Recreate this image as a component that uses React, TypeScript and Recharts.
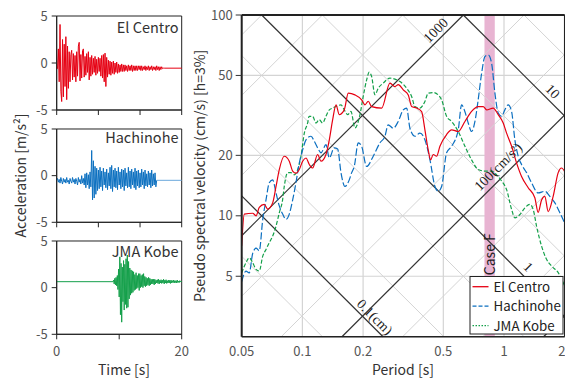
import React from 'react';
import { LineChart, Line, XAxis, YAxis, CartesianGrid, ReferenceLine, ReferenceArea, ReferenceDot } from 'recharts';

const SANS = '"Noto Sans CJK JP", "Noto Sans", sans-serif';
const SERIF = '"Liberation Serif", "DejaVu Serif", serif';

const RED = '#e60012';
const BLUE = '#0b6fc0';
const BLUE_LIGHT = '#6aa8dc';
const GREEN = '#14a04a';

// ---------- acceleration time histories (m/s^2) ----------
const elCentroDt = 0.2;
const elCentroAcc = [
  -0.55, -0.6, 1.5, -2.0, 4.1, -3.0, -4.1, 2.5, -3.6, 2.0,
  -2.5, 2.8, -3.9, 1.8, -2.7, 1.2, -2.0, 0.9, 1.35, -1.8,
  1.0, -1.5, 0.8, -2.0, 1.2, -1.4, 1.8, 2.2, -1.9, 0.9,
  -1.6, 1.3, 1.5, -1.5, 0.7, -1.3, 1.0, -1.0, 1.2, -1.8,
  0.6, -1.4, 0.8, -1.2, 0.5, -1.0, 0.7, -1.3, 0.4, -1.1,
  0.6, -0.9, 0.5, -1.4, 0.8, -1.6, 0.9, -2.0, 1.05, -2.5,
  0.6, -1.5, 0.3, -1.2, 0.2, -1.3, 0.1, -1.1, 0.2, -1.2,
  0.0, -1.0, 0.1, -1.1, -0.1, -1.0, -0.2, -0.9, -0.1, -0.9,
  -0.2, -0.9, -0.2, -0.8, -0.3, -0.9, -0.2, -0.8, -0.3, -0.8,
  -0.2, -0.9, -0.3, -0.8, -0.3, -0.8, -0.3, -0.8, -0.3, -0.7,
  -0.3, -0.8, -0.3, -0.8, -0.4, -0.7, -0.3, -0.8, -0.4, -0.7,
  -0.3, -0.8, -0.4, -0.7, -0.3, -0.8, -0.4, -0.7, -0.4, -0.8,
  -0.3, -0.7, -0.4, -0.8, -0.4, -0.7, -0.4, -0.6, -0.55, -0.55,
];
const elCentroEnd = { t: 30, a: -0.55 };

const hachinoheDt = 0.2;
const hachinoheAcc = [
  -0.5, -0.3, -0.7, -0.4, -0.8, -0.2, -0.6, -0.9, -0.3, -0.7,
  -0.4, -0.8, -0.2, -0.7, -0.5, -0.9, -0.3, -0.6, -0.8, -0.2,
  -0.7, -0.4, -0.9, -0.3, -0.6, -1.0, -0.2, -0.7, -0.4, -0.9,
  0.0, -0.8, -0.3, -1.0,
  0.2, -1.3, 0.3, -1.0, 0.1, -1.4, 0.4, -1.2,
  2.7, -2.6, 1.6, -2.4, 1.0, -2.0, 0.8, -1.6,
  0.6, -1.4, 0.9, -1.2, 0.5, -1.6, 0.8, -1.0, 0.4, -1.3,
  0.7, -1.5, 0.3, -1.1, 0.9, -1.4, 1.1, -1.7, 0.6, -1.2,
  0.8, -1.3, 0.5, -1.5, 0.9, -1.0, 0.4, -1.4, 0.7, -1.2,
  0.6, -1.6, 0.8, -1.1, 0.3, -1.3, 0.9, -1.2, 0.5, -1.4,
  0.7, -1.0, 0.4, -1.3, 0.8, -1.5, 0.5, -1.1, 0.6, -1.3,
  0.3, -1.2, 0.7, -1.0, 0.4, -1.4, 0.6, -1.1, 0.2, -1.2,
  0.5, -1.0, 0.3, -1.3, 0.6, -1.1, 0.2, -1.0, 0.3, -1.2,
  -0.5,
];
const hachinoheTail = [{ t: 24, a: -0.5 }, { t: 30, a: -0.5 }];

const kobeStart = { t: 0, a: 0.64 };
const kobeT0 = 9.0;
const kobeDt = 0.1;
const kobeAcc = [
  0.64, 0.8, 0.4, 1.0, 0.3, 1.1, 0.2, 1.3, -0.2, 2.0,
  -1.0, 3.3, -2.9, 2.6, -3.7, 2.2, -1.5, 2.9, -2.4, 2.5,
  -1.8, 3.1, -2.2, 3.5, -2.1, 2.8, -1.2, 2.1, -0.8, 1.9,
  -0.6, 1.8, -0.5, 1.7, -0.3, 1.4, -0.2, 1.6, -0.1, 1.3,
  0.0, 1.5, -0.3, 1.5, 0.0, 1.3, 0.1, 1.4, 0.0, 1.5,
  0.2, 1.2, 0.1, 1.1, 0.2, 1.0, 0.3, 1.1, 0.2, 1.0,
  0.3, 0.9, 0.4, 0.9, 0.4, 0.9, 0.3, 0.9, 0.4, 0.8,
  0.5,
  0.85, 0.45, 0.9, 0.4, 0.8, 0.5, 0.85, 0.45, 0.8, 0.5,
  0.9, 0.4, 0.8, 0.5, 0.85, 0.45, 0.75, 0.5, 0.8, 0.5,
  0.8, 0.45, 0.8, 0.5, 0.75, 0.55, 0.8, 0.5, 0.75, 0.55,
  0.75, 0.5, 0.8, 0.55, 0.7, 0.55, 0.75, 0.6, 0.7, 0.64,
];

// ---------- pseudo spectral velocity (cm/s) ----------
const elCentroT = [0.05,0.0515,0.0567,0.0589,0.0611,0.0647,0.0673,0.0712,0.074,0.0768,0.0813,0.0861,0.0895,0.0929,0.0965,0.1003,0.1042,0.1082,0.1124,0.119,0.1237,0.1309,0.136,0.1413,0.1468,0.1523,0.1613,0.1689,0.1822,0.1967,0.2043,0.2121,0.2205,0.2472,0.2718,0.2877,0.2988,0.3164,0.335,0.3482,0.3687,0.3903,0.4052,0.4208,0.4325,0.4457,0.4632,0.481,0.519,0.5497,0.593,0.64,0.6905,0.7445,0.7885,0.82,0.884,0.936,0.991,1.03,1.091,1.155,1.222,1.318,1.422,1.477,1.536,1.594,1.656,1.753,1.857,1.93,2.0];
const elCentroSv = [7.1,10.2,10.3,10.0,11.0,11.4,10.8,11.6,14.0,17.0,19.8,18.7,16.7,16.3,17.0,18.7,19.4,18.0,17.3,20.2,18.7,20.2,23.9,30.1,35.7,31.9,33.7,40.8,40.0,37.8,35.7,37.2,35.0,34.4,45.8,44.0,45.0,42.4,40.0,35.0,34.4,33.0,26.8,21.3,19.0,20.2,19.8,22.2,25.4,26.8,26.3,29.5,33.1,35.0,35.0,33.7,34.4,31.9,29.0,25.8,22.2,18.3,15.7,13.8,12.3,10.4,12.0,12.5,10.5,12.5,16.4,17.3,16.6];

const hachinoheT = [0.05,0.0525,0.0545,0.0567,0.0589,0.0611,0.0636,0.066,0.0685,0.0712,0.074,0.0768,0.0798,0.0829,0.0861,0.0895,0.0929,0.0965,0.1003,0.1042,0.1103,0.1146,0.119,0.1237,0.1309,0.136,0.1439,0.1496,0.1554,0.1626,0.1708,0.1756,0.1808,0.1893,0.1967,0.2083,0.2246,0.2425,0.2567,0.2666,0.2823,0.2988,0.3164,0.3289,0.3415,0.3616,0.3828,0.4052,0.4292,0.4544,0.4717,0.4904,0.519,0.5497,0.593,0.616,0.64,0.6645,0.6905,0.7175,0.7445,0.7745,0.804,0.835,0.868,0.9015,0.936,0.9725,1.01,1.049,1.091,1.132,1.176,1.222,1.294,1.37,1.477,1.594,1.688,1.788,1.893,2.0];
const hachinoheSv = [4.7,5.3,5.2,6.5,6.9,6.7,9.6,12.0,14.6,15.1,13.0,11.2,10.2,9.6,10.2,12.0,14.6,18.3,21.3,23.9,24.9,23.5,21.8,20.6,22.6,19.4,21.8,21.5,16.4,14.0,15.1,16.4,17.6,23.1,22.2,17.6,19.8,23.1,24.9,28.4,27.3,29.5,33.7,34.4,27.3,24.9,25.8,23.9,19.0,14.0,13.25,14.0,20.6,22.2,26.8,35.7,33.0,29.0,26.3,29.5,37.8,51.3,62.1,63.3,57.5,40.8,32.5,31.3,33.7,35.7,33.0,23.9,19.8,18.0,16.4,14.6,13.0,13.25,12.5,11.6,10.35,9.2];

const kobeSpecT = [0.05,0.0525,0.0545,0.0567,0.0589,0.0611,0.0636,0.066,0.0685,0.0712,0.074,0.0768,0.0798,0.0813,0.0845,0.0878,0.0911,0.0948,0.0984,0.1022,0.1062,0.108,0.1124,0.1168,0.1212,0.126,0.1309,0.136,0.1413,0.1468,0.1554,0.1613,0.1677,0.1741,0.1822,0.193,0.2003,0.2083,0.2146,0.2205,0.229,0.2379,0.2518,0.2718,0.2877,0.3047,0.3289,0.3482,0.3616,0.3828,0.4052,0.4208,0.4457,0.4717,0.4904,0.519,0.5497,0.593,0.64,0.6905,0.7445,0.804,0.868,0.919,0.9725,1.03,1.091,1.132,1.199,1.27,1.344,1.396,1.45,1.536,1.626,1.722,1.857,2.0];
const kobeSpecSv = [5.2,5.84,6.18,5.84,5.41,5.31,6.3,6.8,7.34,7.92,8.88,10.35,12.05,14.0,16.4,16.4,16.0,17.0,19.8,25.8,29.0,31.3,31.3,29.0,30.1,29.0,31.3,33.7,34.4,35.0,35.7,33.7,31.9,33.1,27.4,31.9,39.3,47.5,51.9,49.4,40.1,43.2,45.8,48.5,47.9,46.6,43.2,39.3,35.0,34.4,37.1,40.8,41.1,40.0,37.8,31.3,29.5,26.3,22.2,19.0,17.0,16.7,16.7,16.0,14.9,13.5,10.75,9.77,10.15,10.96,11.4,10.75,8.88,7.06,6.07,5.62,5.21,4.47];

// ---------- axes / tripartite grid values ----------
const periodTicks = [0.05, 0.1, 0.2, 0.5, 1, 2];
const periodMinor = [0.06, 0.07, 0.08, 0.09, 0.3, 0.4, 0.6, 0.7, 0.8, 0.9];
const svTicks = [5, 10, 20, 50, 100];
const svMinor = [3, 4, 6, 7, 8, 9, 30, 40, 60, 70, 80, 90];
const dispValues = [0.05, 0.1, 0.2, 0.5, 1, 2, 5, 10, 20];
const dispBold = [0.1, 1, 10];
const accValues = [10, 20, 50, 100, 200, 500, 1000, 2000, 5000, 10000];
const accBold = [10, 100, 1000];
const caseBand = [0.8, 0.9];

const T_MIN = 0.05, T_MAX = 2, SV_MIN = 2.5, SV_MAX = 100;

function dispSeg(D: number) {
  const k = 2 * Math.PI * D;
  const t1 = Math.max(T_MIN, k / SV_MAX);
  const t2 = Math.min(T_MAX, k / SV_MIN);
  if (t1 >= t2) return null;
  return [{ x: t1, y: k / t1 }, { x: t2, y: k / t2 }];
}
function accSeg(A: number) {
  const k = A / (2 * Math.PI);
  const t1 = Math.max(T_MIN, SV_MIN / k);
  const t2 = Math.min(T_MAX, SV_MAX / k);
  if (t1 >= t2) return null;
  return [{ x: t1, y: k * t1 }, { x: t2, y: k * t2 }];
}

const toSeries = (T: number[], S: number[]) => T.map((t, i) => ({ T: t, Sv: S[i] }));

const tickStyle = { fontSize: 13, fill: '#555', fontFamily: SANS };

type PanelProps = {
  lines: { data: { t: number; a: number }[]; color: string }[];
  top: number;
  marginTop: number;
  plotH: number;
  xh: number;
  domainMax: number;
  ticks: number[];
  labelTicks: boolean;
};

function AccPanel(p: PanelProps) {
  return (
    <div style={{ position: 'absolute', left: 0, top: p.top }}>
      <LineChart width={200} height={p.marginTop + p.plotH + p.xh} margin={{ top: p.marginTop, right: 18.3, bottom: 0, left: 0 }}>
        <XAxis
          type="number" dataKey="t" domain={[0, p.domainMax]} ticks={p.ticks} height={p.xh}
          tickSize={5} tickMargin={7}
          tickFormatter={(v: number) => (p.labelTicks && v !== 10 ? String(v) : '')}
          axisLine={{ stroke: '#222' }} tickLine={{ stroke: '#222' }} tick={tickStyle}
        />
        <YAxis
          type="number" domain={[-5, 5]} ticks={[-5, 0, 5]} width={56.7}
          tickSize={5} tickMargin={4}
          axisLine={{ stroke: '#222' }} tickLine={{ stroke: '#222' }} tick={tickStyle}
        />
        <ReferenceArea x1={0} x2={p.domainMax} y1={-5} y2={5} fill="none" fillOpacity={0} stroke="#222" strokeWidth={1} />
        {p.lines.map((l, i) => (
          <Line key={i} data={l.data} dataKey="a" type="linear" stroke={l.color} strokeWidth={1} dot={false} isAnimationActive={false} />
        ))}
      </LineChart>
    </div>
  );
}

function MainChart() {
  const grayD = dispValues.filter((d) => !dispBold.includes(d));
  const grayA = accValues.filter((a) => !accBold.includes(a));
  const lbl = (value: string, angle: number, family = SERIF) => ({
    value, angle, position: 'center' as const, fontSize: 14, fill: '#222', fontFamily: family,
  });
  return (
    <div style={{ position: 'absolute', left: 180, top: 5 }}>
      <LineChart width={385} height={372} margin={{ top: 10, right: 0.3, bottom: 0, left: 0 }}>
        <CartesianGrid stroke="#d4d4d4" strokeWidth={1.2} />
        <ReferenceArea x1={caseBand[0]} x2={caseBand[1]} fill="#e8b4d2" fillOpacity={1} stroke="none" ifOverflow="hidden" />
        {grayD.map((d) => {
          const s = dispSeg(d);
          return s ? <ReferenceLine key={'gd' + d} segment={s} stroke="#d4d4d4" strokeWidth={1} ifOverflow="visible" /> : null;
        })}
        {grayA.map((a) => {
          const s = accSeg(a);
          return s ? <ReferenceLine key={'ga' + a} segment={s} stroke="#d4d4d4" strokeWidth={1} ifOverflow="visible" /> : null;
        })}
        {dispBold.map((d) => {
          const s = dispSeg(d);
          return s ? <ReferenceLine key={'bd' + d} segment={s} stroke="#333" strokeWidth={1.2} ifOverflow="visible" /> : null;
        })}
        {accBold.map((a) => {
          const s = accSeg(a);
          return s ? <ReferenceLine key={'ba' + a} segment={s} stroke="#333" strokeWidth={1.2} ifOverflow="visible" /> : null;
        })}
        <XAxis
          type="number" dataKey="T" scale="log" domain={[T_MIN, T_MAX]} allowDataOverflow ticks={periodTicks}
          height={40.3} tickSize={6} tickMargin={4} tickLine={false}
          axisLine={{ stroke: '#222', strokeWidth: 1.5 }} tick={tickStyle}
          tickFormatter={(v: number) => String(v)}
        />
        <XAxis xAxisId="minorB" type="number" scale="log" domain={[T_MIN, T_MAX]} allowDataOverflow ticks={periodMinor}
          mirror orientation="bottom" tick={false} tickSize={5} axisLine={false} tickLine={{ stroke: '#333' }} />
        <XAxis xAxisId="minorT" type="number" scale="log" domain={[T_MIN, T_MAX]} allowDataOverflow ticks={periodMinor}
          mirror orientation="top" tick={false} tickSize={5} axisLine={{ stroke: '#222', strokeWidth: 2 }} tickLine={{ stroke: '#333' }} />
        <YAxis
          type="number" scale="log" domain={[SV_MIN, SV_MAX]} allowDataOverflow ticks={svTicks} width={61.7}
          tickSize={6} tickMargin={3} tickLine={{ stroke: '#333' }}
          axisLine={{ stroke: '#222', strokeWidth: 2 }} tick={tickStyle}
          label={{ value: 'Pseudo spectral velocity (cm/s) [h=3%]', angle: -90, position: 'insideLeft', offset: 20, style: { textAnchor: 'middle' }, fontSize: 14, fill: '#333', fontFamily: SANS }}
        />
        <YAxis yAxisId="minorL" type="number" scale="log" domain={[SV_MIN, SV_MAX]} allowDataOverflow ticks={svMinor}
          mirror orientation="left" tick={false} tickSize={5} axisLine={false} tickLine={{ stroke: '#333' }} />
        <YAxis yAxisId="minorR" type="number" scale="log" domain={[SV_MIN, SV_MAX]} allowDataOverflow ticks={svMinor}
          mirror orientation="right" tick={false} tickSize={5} axisLine={{ stroke: '#222', strokeWidth: 1.5 }} tickLine={{ stroke: '#333' }} />
        <Line data={toSeries(kobeSpecT, kobeSpecSv)} dataKey="Sv" type="monotone" stroke={GREEN} strokeWidth={1.2} strokeDasharray="4 2" dot={false} isAnimationActive={false} />
        <Line data={toSeries(hachinoheT, hachinoheSv)} dataKey="Sv" type="monotone" stroke={BLUE} strokeWidth={1.2} strokeDasharray="7 2.5" dot={false} isAnimationActive={false} />
        <Line data={toSeries(elCentroT, elCentroSv)} dataKey="Sv" type="monotone" stroke={RED} strokeWidth={1.2} dot={false} isAnimationActive={false} />
        <ReferenceDot x={0.457} y={84.2} r={0} fill="none" stroke="none" label={lbl('1000', -45)} />
        <ReferenceDot x={1.747} y={41.7} r={0} fill="none" stroke="none" label={lbl('10', 45)} />
        <ReferenceDot x={0.933} y={17.6} r={0} fill="none" stroke="none" label={lbl('100(cm/s²)', -45)} />
        <ReferenceDot x={1.324} y={5.57} r={0} fill="none" stroke="none" label={lbl('1', 45)} />
        <ReferenceDot x={0.229} y={3.14} r={0} fill="none" stroke="none" label={lbl('0.1(cm)', 45)} />
        <ReferenceDot x={0.85} y={6.44} r={0} fill="none" stroke="none" label={lbl('Case F', -90, SANS)} />
      </LineChart>
    </div>
  );
}

const legendItems = [
  { name: 'El Centro', color: RED, dash: undefined as string | undefined },
  { name: 'Hachinohe', color: BLUE, dash: '4 2' },
  { name: 'JMA Kobe', color: GREEN, dash: '1.5 1.5' },
];

export default function App() {
  const elData = [...elCentroAcc.map((a, i) => ({ t: i * elCentroDt, a })), elCentroEnd];
  const haData = hachinoheAcc.map((a, i) => ({ t: i * hachinoheDt, a }));
  const kbData = [kobeStart, ...kobeAcc.map((a, i) => ({ t: kobeT0 + i * kobeDt, a }))];
  return (
    <div style={{ position: 'absolute', left: 0, top: 0, width: 565, height: 378, overflow: 'hidden', background: '#fff', fontFamily: SANS }}>
      <AccPanel lines={[{ data: elData, color: RED }]} top={5.7} marginTop={10} plotH={94} xh={10} domainMax={30} ticks={[0, 10, 20, 30]} labelTicks={false} />
      <AccPanel lines={[{ data: haData, color: BLUE }, { data: hachinoheTail, color: BLUE_LIGHT }]} top={119} marginTop={10} plotH={93.3} xh={10} domainMax={30} ticks={[0, 10, 20, 30]} labelTicks={false} />
      <AccPanel lines={[{ data: kbData, color: GREEN }]} top={230.7} marginTop={10} plotH={93.3} xh={30} domainMax={20} ticks={[0, 10, 20]} labelTicks={true} />
      <MainChart />
      <svg width={565} height={378} style={{ position: 'absolute', left: 0, top: 0, pointerEvents: 'none' }}>
        <g fontFamily={SANS} fontSize={14.5} fill="#333" textAnchor="end">
          <text x={178.5} y={32.5}>El Centro</text>
          <text x={178.5} y={143.3}>Hachinohe</text>
          <text x={178.5} y={256.5}>JMA Kobe</text>
        </g>
        <text x={20} y={175.5} transform="rotate(-90 20 175.5)" textAnchor="middle" dominantBaseline="central" fontFamily={SANS} fontSize={14} fill="#333">Acceleration [m/s²]</text>
        <text x={124} y={374.5} textAnchor="middle" fontFamily={SANS} fontSize={14} fill="#333">Time [s]</text>
        <text x={403} y={374.5} textAnchor="middle" fontFamily={SANS} fontSize={14} fill="#333">Period [s]</text>
        <g transform="translate(469.5,276)">
          <rect x={0.5} y={0.5} width={93} height={57.5} fill="#fff" stroke="#222" strokeWidth={1} />
          {legendItems.map((it, i) => (
            <g key={it.name}>
              <line x1={3} x2={19} y1={10.7 + i * 19.5} y2={10.7 + i * 19.5} stroke={it.color} strokeWidth={1.3} strokeDasharray={it.dash} />
              <text x={24} y={15.5 + i * 19.5} fontSize={13.3} fontFamily={SANS} fill="#222">{it.name}</text>
            </g>
          ))}
        </g>
      </svg>
    </div>
  );
}
